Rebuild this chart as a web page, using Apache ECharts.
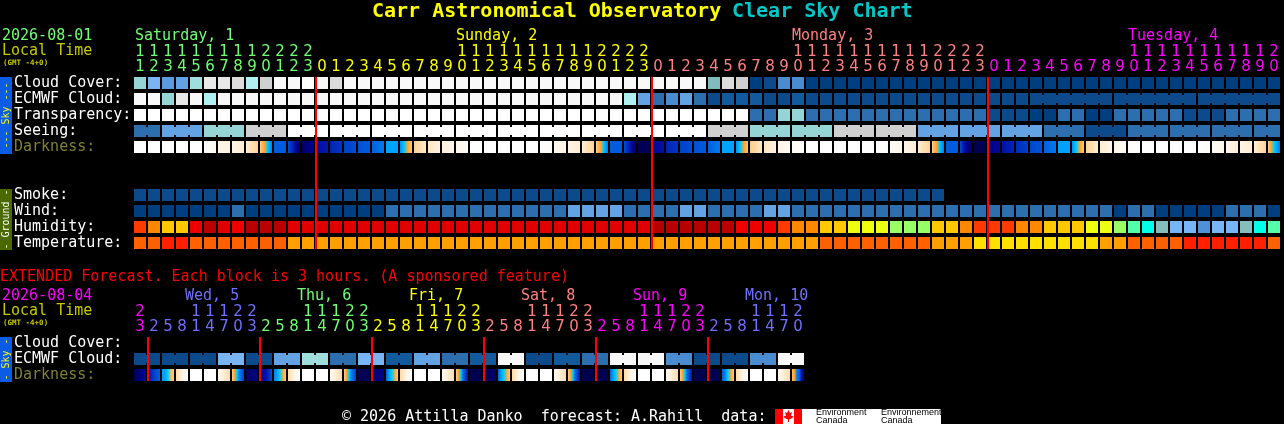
<!DOCTYPE html>
<html><head><meta charset="utf-8">
<style>html,body{margin:0;padding:0;background:#000;overflow:hidden}#c{width:1284px;height:424px}</style>
<script src="https://cdn.jsdelivr.net/npm/echarts@6/dist/echarts.min.js"></script>
</head><body><div id="c"></div>
<script>
const hours=[11,12,13,14,15,16,17,18,19,20,21,22,23,
0,1,2,3,4,5,6,7,8,9,10,11,12,13,14,15,16,17,18,19,20,21,22,23,
0,1,2,3,4,5,6,7,8,9,10,11,12,13,14,15,16,17,18,19,20,21,22,23,
0,1,2,3,4,5,6,7,8,9,10,11,12,13,14,15,16,17,18,19,20];
const extHours=[23,2,5,8,11,14,17,20,23,2,5,8,11,14,17,20,23,2,5,8,11,14,17,20,23,2,5,8,11,14,17,20,23,2,5,8,11,14,17,20,23,2,5,8,11,14,17,20];
const rowNames=['Cloud Cover:','ECMWF Cloud:','Transparency:','Seeing:','Darkness:','',' ','Smoke:','Wind:','Humidity:','Temperature:'];
const extRowNames=['Cloud Cover:','ECMWF Cloud:','Darkness:'];
const cloudCover=[60,50,35,40,65,92,92,85,70,80,97,97,100,97,85,97,97,97,97,97,97,97,97,97,97,97,97,97,97,97,97,97,97,97,97,97,97,97,97,97,97,55,85,80,0,5,30,30,0,0,0,0,0,0,0,0,0,0,0,0,0,0,0,0,0,0,0,0,0,0,0,0,0,0,0,0,0,0,0,0,0,0];
const ecmwf=[97,97,60,92,97,70,97,97,97,97,97,97,97,97,97,97,97,97,97,97,97,97,97,97,97,97,97,97,97,97,97,97,97,97,97,70,40,20,30,40,20,5,10,10,10,5,5,10,5,5,5,5,5,5,5,5,5,5,5,5,5,5,5,5,5,5,5,5,5,5,5,5,5,5,5,5,5,5,5,5,5,5];
const transparency=[100,100,100,100,100,100,100,100,100,100,100,100,100,100,100,100,100,100,100,100,100,100,100,100,100,100,100,100,100,100,100,100,100,100,100,100,100,100,100,100,100,100,100,100,20,20,60,60,20,20,20,20,20,20,20,20,20,20,20,20,20,5,5,5,0,0,20,20,0,0,20,20,20,20,20,5,5,5,20,20,20,20];
const seeing=[20,20,40,40,40,60,60,60,80,80,80,100,100,100,100,100,100,100,100,100,100,100,100,100,100,100,100,100,100,100,100,100,100,100,100,100,100,100,100,100,100,80,80,80,60,60,60,60,60,60,80,80,80,80,80,80,40,40,40,40,40,40,40,40,40,20,20,20,5,5,5,20,20,20,20,20,20,20,20,20,20,20];
const smoke=[5,5,5,5,5,5,5,5,5,5,5,5,5,5,5,5,5,5,5,5,5,5,5,5,5,5,5,5,5,5,5,5,5,5,5,5,5,5,5,5,5,5,5,5,5,5,5,5,5,5,5,5,5,5,5,5,5,5];
const wind=[0,0,0,0,0,0,0,20,0,0,0,0,0,0,0,0,0,0,20,20,20,20,20,20,20,20,20,20,20,20,20,40,40,40,40,20,20,20,20,40,40,20,20,20,20,40,40,20,20,20,20,20,20,20,20,20,20,20,20,20,20,20,20,20,20,20,20,20,20,20,0,20,20,0,0,0,0,0,20,20,20,0];
const humidity=[70,65,60,60,75,85,80,75,85,85,85,80,80,80,80,80,80,80,80,80,80,80,80,80,80,80,80,80,80,80,80,80,80,80,80,80,80,85,85,85,85,85,85,75,75,75,70,65,65,60,60,55,55,55,50,50,50,60,60,65,70,70,70,65,65,60,60,60,55,55,50,45,40,35,30,30,25,30,30,35,40,45];
const temperature=[24,24,28,28,24,24,24,24,24,24,24,20,20,20,20,20,20,20,20,20,20,20,20,20,20,20,20,20,20,20,20,20,20,20,20,20,20,20,20,20,20,20,20,20,20,20,20,20,20,24,24,24,24,24,24,24,24,20,20,20,16,16,16,16,16,16,16,16,16,20,20,24,24,24,24,28,28,28,28,28,28,24];
const darkness=[[0,0],[0,0],[0,0],[0,0],[0,0],[0,.6],[.8,1.2],[1,1.5],[1.5,2.8],[3,3.6,4,5,6,6.5],[7,7.2],[7.5,8.5,9.5,10.5],[10.6,10,9.8],[9.2,8.8],[8.6,8.2],[8,7.6],[7.5,7.2],[7,6.6],[6,6],[6.2,5.2,4,3.2],[2.8,1.8],[2,1.2],[1.2,.8],[.8,.3],
[0,0],[0,0],[0,0],[0,0],[0,0],[0,.4],[.6,1],[1,1.5],[1.5,2.8],[3,3.6,4,5,6,6.5],[7,7.2],[7.5,8.5,9.5,10.5],[10.8,11,10.5],[9.5,9],[8.6,8.2],[8,7.6],[7.5,7.2],[7,6.6],[6,6],[6.2,5.2,4,3.2],[3,1.8],[2,1.2],[1,.5],[.5,.1],
[0,0],[0,0],[0,0],[0,0],[0,0],[0,.2],[.3,.8],[.8,1.5],[1.5,2.8],[3,3.6,4,5,6,6.5],[7,7.2],[7.5,9,10,10.5],[11,11],[9.8,9.5],[9,8.6],[8.4,8],[7.8,7.4],[7,6.6],[6,6],[6.2,5.2,4,3.2],[2.8,1.5],[1.5,.8],[.8,.4],[.3,0],
[0,0],[0,0],[0,0],[0,0],[0,.3],[.4,.8],[.8,1.4],[1,1.5],[1.5,2.8],[3,4,5,6,6.5]];
const extEcmwf=[5,5,5,5,5,5,50,50,5,5,40,40,65,65,20,20,50,50,10,10,40,40,20,20,10,10,97,97,5,5,10,10,20,20,97,97,97,97,30,30,5,5,5,5,30,30,97,97];
const extDarkness=[[11,10,9.5],[9,8,7],[6,6,5,3.5,3],[2.5,1,0],[0,0],[0,0],[.3,1.5,2.5],[3,4,5,6.5,7,8],[10.5,10],[9.5,9,7.5],[6.5,6,5,4,3],[2.5,1,0],[0,0],[0,0],[.3,1.5,2.5],[3,4,5,6.5,7,8],
[11,10.8],[10.2,9.8],[7,6,5,4,3],[2.5,1,0],[0,0],[0,0],[.3,1.5,2.5],[3,4,5,7,8,9],
[11,11],[10.8,10.5],[7,6,5,4,3],[2.5,1,0],[0,0],[0,0],[.3,1.5,2.5],[3,4,5,7,8,9],
[11,11],[11,11],[7,6,5,4,3],[2.5,1,0],[0,0],[0,0],[.3,1.5,2.5],[3,4,5,7,8,9],
[11,11],[11,11],[7,6.5,5,4,3],[2.5,1,0],[0,0],[0,0],[.3,1.5,2.5],[3.5,4,6.5,7,9,10]];
const dayColors={sat:'#70ff70',sun:'#ffff00',mon:'#ff8080',tue:'#ff00ff',wed:'#7070ff'};
const dayLabels=[['Saturday, 1',135,dayColors.sat],['Sunday, 2',456,dayColors.sun],['Monday, 3',792,dayColors.mon],['Tuesday, 4',1128,dayColors.tue]];
const extDayLabels=[['Wed, 5',185,dayColors.wed],['Thu, 6',297,dayColors.sat],['Fri, 7',409,dayColors.sun],['Sat, 8',521,dayColors.mon],['Sun, 9',633,dayColors.tue],['Mon, 10',745,dayColors.wed]];

const skyPalette={0:'#003f7f',5:'#0c4a8c',10:'#135a9c',20:'#2c6eae',30:'#4a8ccf',35:'#5b9ade',40:'#63a3e4',50:'#79b5f5',55:'#80bcbc',60:'#95d5d5',65:'#a0dede',70:'#b0f0f0',80:'#d0d0d0',85:'#dcdcdc',92:'#e8e8e8',97:'#f8f8f8',100:'#ffffff'};
const humPalette={25:'#4f90d8',30:'#76b6f6',35:'#85bcbc',40:'#00ffe8',45:'#55ffaa',50:'#99ff66',55:'#eeff10',60:'#ffc800',65:'#ff8800',70:'#ff3a00',75:'#ee0000',80:'#e00000',85:'#b80000'};
const tempPalette={16:'#ffe000',20:'#ffa000',24:'#ff6000',28:'#ff2000'};
const darkRamp=['#ffffff','#fff4e4','#ffe6c4','#ffce88','#ffa530','#00d0ff','#00a0ff','#0060e0','#0040c8','#0010a8','#000080','#000050'];
const MONO='"DejaVu Sans Mono"';
const SANS='"DejaVu Sans"';
const CW=12,CH=12;

function rgb(h){return [1,3,5].map(i=>parseInt(h.substr(i,2),16));}
function rampColor(d){const i=Math.min(Math.floor(d),10),t=d-i,a=rgb(darkRamp[i]),b=rgb(darkRamp[i+1]);
  return 'rgb('+a.map((v,k)=>Math.round(v+(b[k]-v)*t)).join(',')+')';}
function cellRect(api,col,row){const p=api.coord([col,row]),s=api.size([1,1]);
  return {x:p[0]-CW/2,y:p[1]-CH/2,width:CW,height:CH,gap:s[0]-CW};}
function rowSeries(ax,row,values,palette,joined){
  return {type:'custom',xAxisIndex:ax,yAxisIndex:ax,silent:true,clip:false,encode:{x:0,y:1},
    data:values.map((v,c)=>[c,row,v]),
    renderItem(params,api){const c=api.value(0),r=cellRect(api,c,api.value(1)),fill=palette[api.value(2)];
      const kids=[{type:'rect',shape:{x:r.x,y:r.y,width:CW,height:CH},style:{fill}}];
      if(joined&&joined(c)&&c<values.length-1)kids.push({type:'rect',shape:{x:r.x+CW,y:r.y+2,width:r.gap,height:CH-4},style:{fill}});
      return {type:'group',children:kids};}};
}
function darkSeries(ax,row,values){
  return {type:'custom',xAxisIndex:ax,yAxisIndex:ax,silent:true,clip:false,encode:{x:0,y:1},
    data:values.map((v,c)=>[c,row]),
    renderItem(params,api){const c=api.value(0),r=cellRect(api,c,api.value(1)),st=values[c];
      const grad=new echarts.graphic.LinearGradient(0,0,1,0,st.map((d,i)=>({offset:i/(st.length-1),color:rampColor(d)})));
      return {type:'rect',shape:{x:r.x,y:r.y,width:CW,height:CH},style:{fill:grad}};}};
}
function midnightSeries(ax,hrs,firstRow,lastRow){
  const cols=hrs.map((h,i)=>i&&h<hrs[i-1]?i:-1).filter(i=>i>=0);
  return {type:'custom',xAxisIndex:ax,yAxisIndex:ax,silent:true,clip:false,z:5,encode:{x:0},
    data:cols.map(c=>[c]),
    renderItem(params,api){const c=api.value(0),a=cellRect(api,c,firstRow),b=cellRect(api,c,lastRow);
      return {type:'rect',shape:{x:a.x-1,y:a.y,width:2,height:b.y+CH-a.y},style:{fill:'#ff0000'}};}};
}
function xColor(hrs,palette){
  const out=[];let d=0;hrs.forEach((h,i)=>{if(i&&h<hrs[i-1])d++;out.push(palette[d]);});return out;
}
const hourCol=xColor(hours,[dayColors.sat,dayColors.sun,dayColors.mon,dayColors.tue]);
const extCol=xColor(extHours,[dayColors.tue,dayColors.wed,dayColors.sat,dayColors.sun,dayColors.mon,dayColors.tue,dayColors.wed]);
function xAxis(gridIndex,hrs,cols){return {type:'category',gridIndex,position:'top',data:hrs.map(String),
  axisLine:{show:false},axisTick:{show:false},splitLine:{show:false},
  axisLabel:{interval:0,margin:0,hideOverlap:false,fontFamily:SANS,fontSize:15,lineHeight:15,
    color:(v,i)=>cols[i],
    formatter:(v,i)=>{const h=hrs[i];return (h>=10?Math.floor(h/10):' ')+'\n'+(h%10);}}};}
function yAxis(gridIndex,names){return {type:'category',gridIndex,inverse:true,data:names,
  axisLine:{show:false},axisTick:{show:false},splitLine:{show:false},
  axisLabel:{interval:0,align:'left',margin:119,fontFamily:MONO,fontSize:15,padding:[0,0,2,0],
    color:v=>v==='Darkness:'?'#808030':'#ffffff'}};}

function txt(text,x,y,fill,font){return {type:'text',x,y:y+1,silent:true,style:{text,fill,font:font||('15px '+MONO),verticalAlign:'middle',align:'left'}};}
function vtxt(text,x,y,fill){return {type:'text',x,y,rotation:Math.PI/2,silent:true,style:{text,fill,font:'10px '+MONO,verticalAlign:'middle',align:'center'}};}
function box(x,y,w,h,fill){return {type:'rect',silent:true,shape:{x,y,width:w,height:h},style:{fill}};}

const graphics=[
 txt('Carr Astronomical Observatory',372,11,'#ffff00','bold 20px '+MONO),
 txt('Clear Sky Chart',732,11,'#00c8c8','bold 20px '+MONO),
 txt('2026-08-01',2,35,dayColors.sat),
 txt('Local Time',2,50,'#c8c800'),
 txt('(GMT -4+0)',3,62,'#c8c800','bold 7.5px '+MONO),
 txt('EXTENDED Forecast. Each block is 3 hours. (A sponsored feature)',0,276,'#ff0000'),
 txt('2026-08-04',2,295,dayColors.tue),
 txt('Local Time',2,310,'#c8c800'),
 txt('(GMT -4+0)',3,322,'#c8c800','bold 7.5px '+MONO),
 box(0,77,12,77,'#0b5be5'), vtxt('--- Sky ---',6,115.5,'#ffff00'),
 box(0,189,12,61,'#4a6a00'), vtxt('- Ground -',6,219.5,'#ffffff'),
 box(0,337,12,45,'#0b5be5'), vtxt('- Sky -',6,359.5,'#ffff00'),
 txt('\u00a9 2026 Attilla Danko  forecast: A.Rahill  data:',342,416,'#ffffff'),
 box(775,409,166,15,'#ffffff'),
 box(775,409,8,15,'#ff0000'), box(794,409,8,15,'#ff0000'),
 {type:'polygon',silent:true,shape:{points:[[788.5,410],[790,413],[792,412],[791,416],[793,416],[792.5,418],[789,419.5],[789,422],[788,422],[788,419.5],[784.5,418],[784,416],[786,416],[785,412],[787,413]]},style:{fill:'#ff0000'}},
 {type:'text',x:816,y:413,silent:true,style:{text:'Environment',fill:'#000',font:'9px "Liberation Sans"',verticalAlign:'middle'}},
 {type:'text',x:816,y:421,silent:true,style:{text:'Canada',fill:'#000',font:'9px "Liberation Sans"',verticalAlign:'middle'}},
 {type:'text',x:881,y:413,silent:true,style:{text:'Environnement',fill:'#000',font:'9px "Liberation Sans"',verticalAlign:'middle'}},
 {type:'text',x:881,y:421,silent:true,style:{text:'Canada',fill:'#000',font:'9px "Liberation Sans"',verticalAlign:'middle'}}
].concat(dayLabels.map(d=>txt(d[0],d[1],35,d[2])),extDayLabels.map(d=>txt(d[0],d[1],295,d[2])));

const chart=echarts.init(document.getElementById('c'),null,{renderer:'canvas'});
chart.setOption({
  animation:false,backgroundColor:'#000',
  grid:[{left:133,top:75,width:hours.length*14,height:rowNames.length*16},
        {left:133,top:335,width:extHours.length*14,height:extRowNames.length*16}],
  xAxis:[xAxis(0,hours,hourCol),xAxis(1,extHours,extCol)],
  yAxis:[yAxis(0,rowNames),yAxis(1,extRowNames)],
  series:[
    rowSeries(0,0,cloudCover,skyPalette),
    rowSeries(0,1,ecmwf,skyPalette,c=>c>=64&&(c-64)%6!==5),
    rowSeries(0,2,transparency,skyPalette),
    rowSeries(0,3,seeing,skyPalette,c=>(c-1)%3!==0),
    darkSeries(0,4,darkness),
    rowSeries(0,7,smoke,skyPalette),
    rowSeries(0,8,wind,skyPalette),
    rowSeries(0,9,humidity,humPalette),
    rowSeries(0,10,temperature,tempPalette),
    midnightSeries(0,hours,0,10),
    rowSeries(1,1,extEcmwf,skyPalette,c=>c%2===0),
    darkSeries(1,2,extDarkness),
    midnightSeries(1,extHours,0,2)
  ],
  graphic:{elements:graphics}
});
</script></body></html>
